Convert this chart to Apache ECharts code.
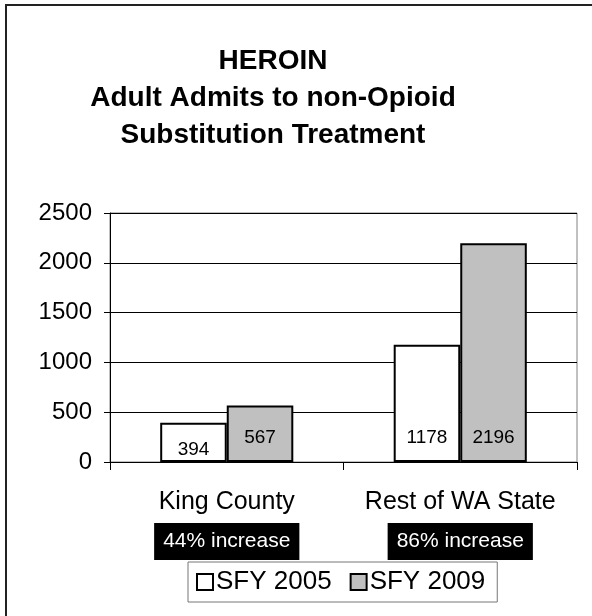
<!DOCTYPE html>
<html>
<head>
<meta charset="utf-8">
<script src="https://cdn.jsdelivr.net/npm/echarts@6/dist/echarts.min.js"></script>
<style>html,body{margin:0;padding:0;background:#fff}#c{width:592px;height:616px}</style>
</head>
<body>
<div id="c"></div>
<script>
const categories = ['King County', 'Rest of WA State'];
const increases = ['44% increase', '86% increase'];
const seriesNames = ['SFY 2005', 'SFY 2009'];
const values2005 = [394, 1178];
const values2009 = [567, 2196];
const yTicks = { min: 0, max: 2500, interval: 500 };

const FONT = '"Liberation Sans", Arial, sans-serif';
const chart = echarts.init(document.getElementById('c'));

function labelItems(vals, distances) {
  return vals.map((v, i) => ({ value: v, label: { distance: distances[i] } }));
}

chart.setOption({
  animation: false,
  backgroundColor: '#fff',
  textStyle: { fontFamily: FONT },
  title: {
    text: 'HEROIN\nAdult Admits to non-Opioid\nSubstitution Treatment',
    left: 273,
    top: 43,
    textAlign: 'center',
    padding: 0,
    textStyle: { fontFamily: FONT, fontWeight: 'bold', fontSize: 28, lineHeight: 37, color: '#000' }
  },
  graphic: [{
    type: 'rect',
    shape: { x: 6, y: 5, width: 700, height: 700 },
    style: { fill: 'none', stroke: '#222', lineWidth: 2 },
    silent: true
  }],
  grid: { left: 110, right: 15, top: 213, bottom: 154, show: true, borderColor: '#808080', borderWidth: 1 },
  legend: {
    data: seriesNames,
    left: 188,
    top: 562,
    padding: [7, 12, 7, 8],
    itemWidth: 16,
    itemHeight: 16,
    itemGap: 18,
    icon: 'rect',
    borderColor: '#777',
    borderWidth: 1,
    textStyle: { fontFamily: FONT, fontSize: 26, color: '#000', padding: [0, 0, 0, -2] }
  },
  xAxis: {
    type: 'category',
    data: categories,
    axisLine: { lineStyle: { color: '#000', width: 1 } },
    axisTick: { show: true, length: 8, lineStyle: { color: '#000' } },
    axisLabel: {
      margin: 11,
      interval: 0,
      formatter: (v, i) => '{n|' + v + '}\n{b|' + increases[i] + '}',
      rich: {
        n: { fontFamily: FONT, fontSize: 25, lineHeight: 58, color: '#000' },
        b: { fontFamily: FONT, fontSize: 21, lineHeight: 21, color: '#fff', backgroundColor: '#000', padding: [8, 9, 8, 9] }
      }
    }
  },
  yAxis: {
    type: 'value',
    min: yTicks.min,
    max: yTicks.max,
    interval: yTicks.interval,
    axisLine: { show: true, lineStyle: { color: '#000', width: 1 } },
    axisTick: { show: true, length: 6, lineStyle: { color: '#000' } },
    axisLabel: { fontFamily: FONT, fontSize: 24, color: '#000', margin: 18, formatter: v => String(v) },
    splitLine: { show: true, lineStyle: { color: '#000', width: 1 } }
  },
  series: [
    {
      name: seriesNames[0],
      type: 'bar',
      data: labelItems(values2005, [3, 15]),
      barGap: '0%',
      barCategoryGap: '43%',
      itemStyle: { color: '#ffffff', borderColor: '#000', borderWidth: 2 },
      label: { show: true, position: 'insideBottom', fontFamily: FONT, fontSize: 19, color: '#000' }
    },
    {
      name: seriesNames[1],
      type: 'bar',
      data: labelItems(values2009, [15, 15]),
      itemStyle: { color: '#c0c0c0', borderColor: '#000', borderWidth: 2 },
      label: { show: true, position: 'insideBottom', fontFamily: FONT, fontSize: 19, color: '#000' }
    }
  ]
});
</script>
</body>
</html>
